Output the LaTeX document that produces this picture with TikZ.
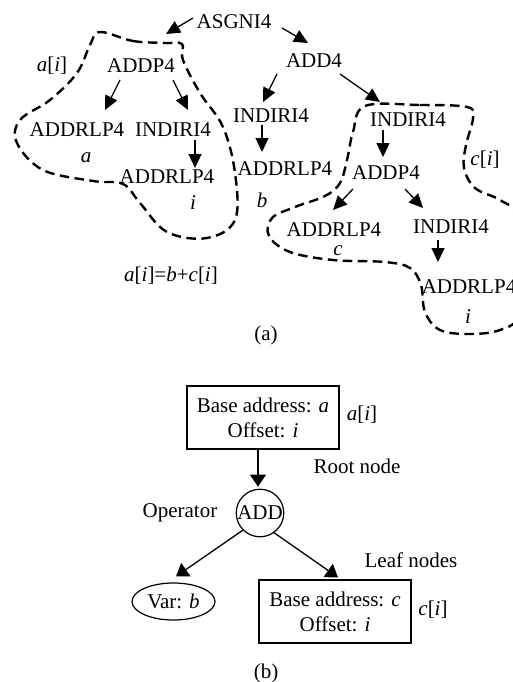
\documentclass[tikz,border=0pt]{standalone}
\usepackage{fontspec}
\setmainfont{Liberation Serif}
\usetikzlibrary{arrows.meta,shapes.geometric}
\tikzset{
  lbl/.style={inner sep=0pt, font=\fontsize{21}{25}\selectfont},
  op/.style={lbl, text height=14pt, text depth=0pt},
  arr/.style={line width=1.3pt, -{Triangle[length=14pt,width=13pt]}},
  arrb/.style={line width=1.3pt, -{Triangle[length=12pt,width=16pt]}},
  blob/.style={line width=2.4pt, dash pattern=on 9.5pt off 5.5pt},
  rbox/.style={draw, line width=1.3pt, minimum width=152pt, minimum height=63pt, align=center, lbl}
}
\begin{document}
\begin{tikzpicture}[x=1pt,y=-1pt]
\useasboundingbox (0,0) rectangle (512,682);
% ---------- part (a) ----------
\node[op] (asgn) at (234,22) {ASGNI4};
\node[op] (add4) at (314,61) {ADD4};
\node[op] (addp) at (141,66) {ADDP4};
\node[lbl] (ai) at (52,66) {\textit{a}[\textit{i}]};
\node[op] (addrlpa) at (77,129) {ADDRLP4};
\node[op] (indiria) at (173,129) {INDIRI4};
\node[lbl] (alab) at (86,158) {\textit{a}};
\node[op] (addrlpi) at (167,176) {ADDRLP4};
\node[lbl] (ilab) at (193,203) {\textit{i}};
\node[op] (indirib) at (271,116) {INDIRI4};
\node[op] (addrlpb) at (285,168) {ADDRLP4};
\node[lbl] (blab) at (262,200) {\textit{b}};
\node[op] (indiric) at (408,120) {INDIRI4};
\node[op] (addpc) at (386,172) {ADDP4};
\node[op] (addrlpc) at (334,229) {ADDRLP4};
\node[lbl] (clab) at (338,251) {\textit{c}};
\node[op] (indiric2) at (451,226) {INDIRI4};
\node[op] (addrlpc2) at (469,286) {ADDRLP4};
\node[lbl] (ilab2) at (468,317) {\textit{i}};
\node[lbl] (cilab) at (485,160) {\textit{c}[\textit{i}]};
\node[lbl] (eq) at (171,276) {\textit{a}[\textit{i}]=\textit{b}+\textit{c}[\textit{i}]};
\node[lbl] (capa) at (266,335) {(a)};

\draw[arr] ([shift={(-41,-4)}]asgn.center) -- ([shift={(25,-32)}]addp.center);
\draw[arr] ([shift={(48,6)}]asgn.center) -- ([shift={(-6,-18)}]add4.center);
\draw[arr] ([shift={(-37,13)}]add4.center) -- ([shift={(-8,-14)}]indirib.center);
\draw[arr] ([shift={(-9,9)}]indirib.center) -- ([shift={(-23,-16)}]addrlpb.center);
\draw[arr] ([shift={(26,13)}]add4.center) -- ([shift={(-28,-18)}]indiric.center);
\draw[arr] ([shift={(-25,10)}]indiric.center) -- ([shift={(-3,-15)}]addpc.center);
\draw[arr] ([shift={(-33,17)}]addpc.center) -- ([shift={(-1,-19)}]addrlpc.center);
\draw[arr] ([shift={(19,17)}]addpc.center) -- ([shift={(-28,-18)}]indiric2.center);
\draw[arr] ([shift={(-13,14)}]indiric2.center) -- ([shift={(-31,-24)}]addrlpc2.center);
\draw[arr] ([shift={(-21,14)}]addp.center) -- ([shift={(28,-19)}]addrlpa.center);
\draw[arr] ([shift={(32,14)}]addp.center) -- ([shift={(15,-19)}]indiria.center);
\draw[arr] ([shift={(22,11)}]indiria.center) -- ([shift={(28,-8)}]addrlpi.center);

\draw[blob] plot[smooth cycle, tension=0.6] coordinates {
 (100,32) (133,41) (165,43) (182,44) (183,60) (200,93) (223,127) (235,173)
 (235,220) (207,238) (167,232) (140,203) (123,184) (93,181) (43,170) (17,143)
 (20,120) (50,100) (77,73) (90,45)};
\draw[blob] plot[smooth cycle, tension=0.6] coordinates {
 (365,106) (420,105) (467,107) (473,118) (466,145) (464,168) (475,188) (500,200)
 (522,218) (530,265) (520,315) (500,330) (470,334) (440,330) (425,312) (421,285)
 (410,268) (385,262) (333,260) (290,252) (269,236) (272,218) (295,207) (325,196)
 (340,183) (347,160) (353,132)};

% ---------- part (b) ----------
\node[rbox] (boxa) at (263,417.5) {Base address: \textit{a}\\Offset: \textit{i}};
\node[lbl] (ai2) at (362,415) {\textit{a}[\textit{i}]};
\node[op] (root) at (357,466) {Root node};
\node[lbl, circle, draw, line width=1.2pt, minimum size=46pt] (add) at (260,513) {ADD};
\node[op] (oper) at (180,510) {Operator};
\node[lbl, ellipse, draw, line width=1.2pt, minimum width=83pt, minimum height=37pt] (var) at (173.5,601.5) {Var: \textit{b}};
\node[rbox] (boxc) at (335,611.5) {Base address: \textit{c}\\Offset: \textit{i}};
\node[lbl] (ci2) at (433,610) {\textit{c}[\textit{i}]};
\node[op] (leaf) at (411,560) {Leaf nodes};
\node[lbl] (capb) at (266,673) {(b)};

\draw[arrb] ([xshift=-5pt]boxa.south) -- ([shift={(-2,-2)}]add.north);
\draw[arrb] (add.225) -- ([shift={(2.5,-6)}]var.north);
\draw[arrb] ([shift={(13,19)}]add.center) -- ([shift={(3,-2)}]boxc.north);
\end{tikzpicture}
\end{document}
